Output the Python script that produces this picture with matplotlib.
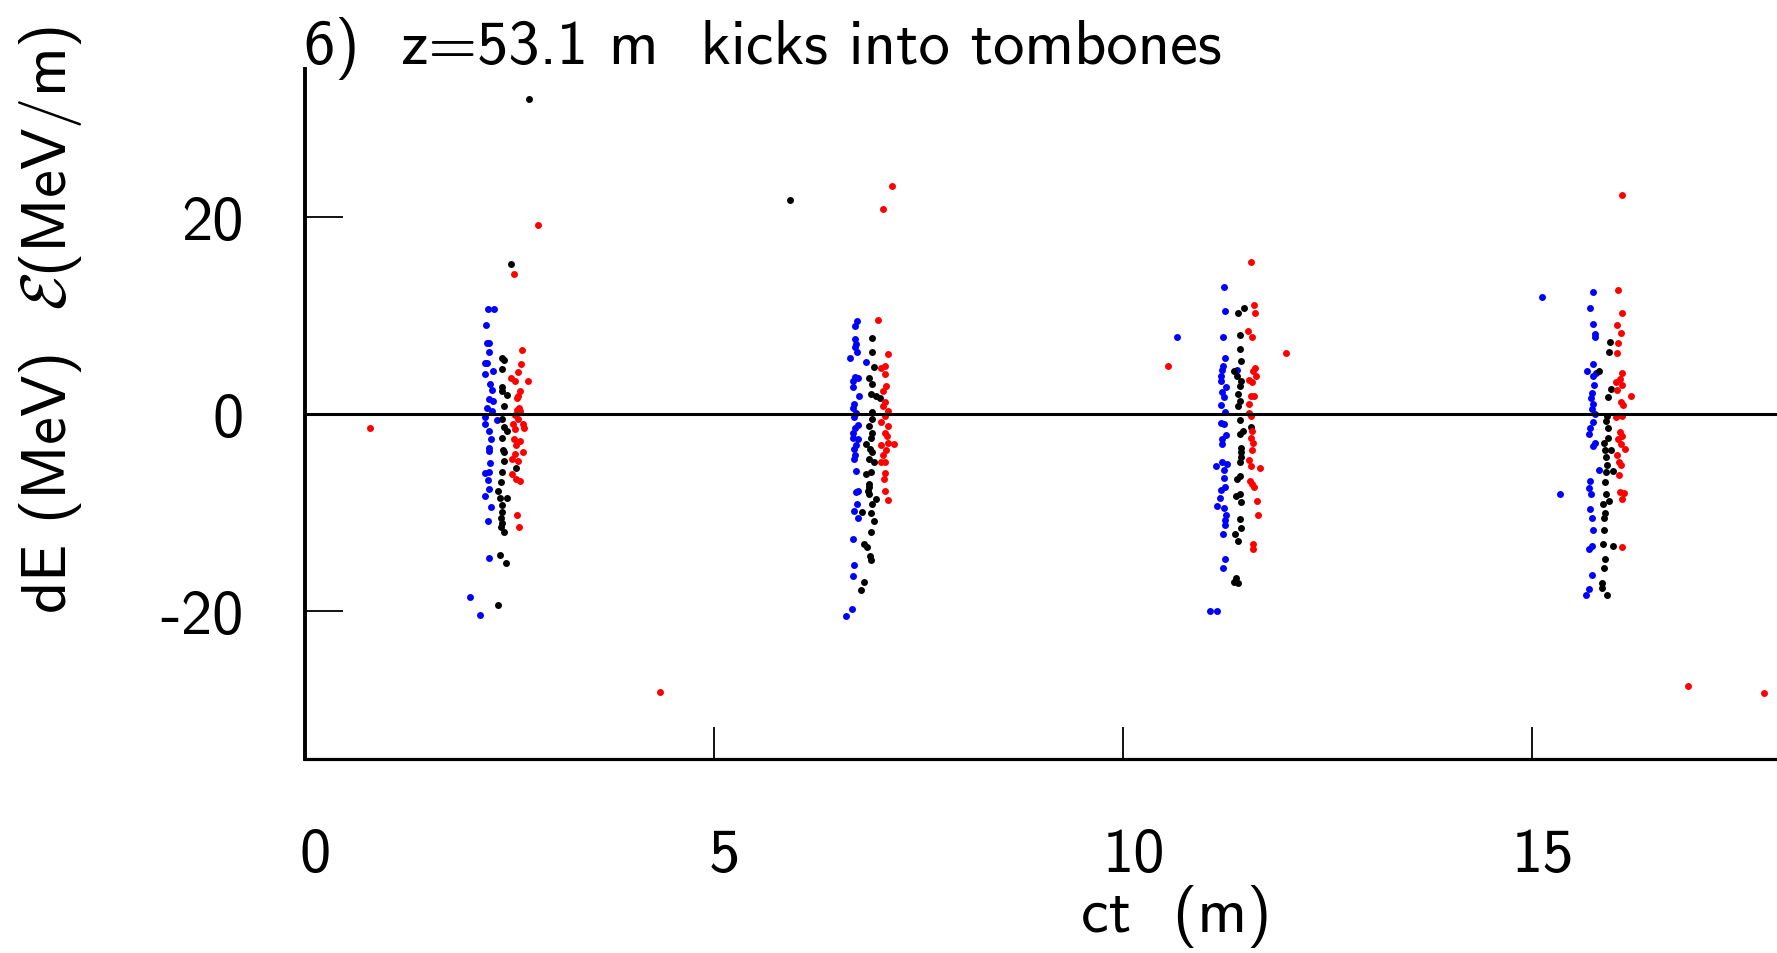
import matplotlib
matplotlib.use('Agg')
import matplotlib.pyplot as plt
import matplotlib.transforms as mtransforms

plt.rcParams['mathtext.fontset'] = 'cm'
plt.rcParams['axes.unicode_minus'] = False
FONT = 'cmss10'
FS = 45

# ---- data (ct in m, dE in MeV) ----
blue_ct = [2.24, 2.32, 2.22, 2.23, 2.26, 2.26, 2.21, 2.23, 2.30, 2.21, 2.27, 2.29, 2.26, 2.30,
           2.23, 2.29, 2.21, 2.35, 2.21, 2.26, 2.28, 2.25, 2.26, 2.27, 2.21, 2.26, 2.24, 2.26,
           2.21, 2.28, 2.24, 2.25, 2.02, 2.15,
           6.75, 6.73, 6.73, 6.74, 6.73, 6.75, 6.67, 6.86, 6.73, 6.76, 6.71, 6.71, 6.78, 6.72,
           6.70, 6.74, 6.72, 6.76, 6.73, 6.71, 6.70, 6.76, 6.74, 6.72, 6.73, 6.72, 6.74, 6.76,
           6.74, 6.75, 6.72, 6.76, 6.71, 6.72, 6.71, 6.69, 6.62,
           10.66, 11.07, 11.15, 11.24, 11.25, 11.23, 11.25, 11.23, 11.21, 11.40, 11.20, 11.20,
           11.26, 11.22, 11.24, 11.20, 11.25, 11.20, 11.24, 11.26, 11.21, 11.22, 11.14, 11.22,
           11.28, 11.24, 11.24, 11.25, 11.20, 11.19, 11.15, 11.24, 11.26, 11.25, 11.25, 11.23,
           11.25, 11.23,
           15.13, 15.35, 15.75, 15.71, 15.75, 15.77, 15.78, 15.75, 15.68, 15.79, 15.75, 15.76,
           15.74, 15.73, 15.75, 15.74, 15.77, 15.75, 15.71, 15.70, 15.77, 15.75, 15.82, 15.71,
           15.70, 15.73, 15.71, 15.74, 15.75, 15.74, 15.70, 15.74, 15.70, 15.66]
blue_dE = [10.65, 10.65, 9.0, 7.2, 7.2, 6.3, 5.2, 5.2, 4.4, 4.1, 3.0, 2.4, 1.5, 1.3,
           0.6, 0.3, -0.3, -0.6, -1.0, -1.7, -2.5, -3.4, -3.8, -5.0, -6.0, -5.9, -6.7, -7.6,
           -8.3, -9.4, -10.9, -14.6, -18.6, -20.4,
           9.4, 8.9, 7.6, 7.1, 6.8, 6.3, 5.7, 5.3, 3.8, 3.7, 3.3, 2.7, 1.8, 1.0,
           0.6, 0.1, -0.3, -1.1, -1.4, -1.9, -2.4, -2.5, -3.1, -3.5, -4.2, -4.6, -5.8, -7.8,
           -7.9, -9.1, -9.8, -10.5, -12.7, -15.3, -16.4, -19.8, -20.5,
           7.8, -20.0, -20.0, 12.9, 10.5, 7.8, 5.7, 4.9, 4.5, 4.5, 3.9, 3.3,
           2.7, 2.2, 1.7, 0.9, 0.2, -0.9, -1.0, -2.1, -2.5, -3.0, -5.3, -4.9,
           -5.1, -5.7, -6.5, -7.4, -7.7, -8.5, -9.3, -9.5, -10.2, -10.8, -11.3, -12.2,
           -14.7, -15.6,
           11.9, -8.1, 12.4, 10.8, 9.1, 8.1, 7.8, 5.1, 4.4, 4.2, 3.9, 2.9,
           2.1, 1.6, 1.0, 0.5, 0.0, -0.8, -1.4, -2.0, -2.9, -3.2, -5.7, -6.8,
           -7.5, -8.1, -9.6, -10.6, -11.8, -13.4, -13.7, -16.3, -17.8, -18.4]

black_ct = [2.74, 2.52, 2.42, 2.44, 2.42, 2.42, 2.42, 2.47, 2.44, 2.42, 2.44, 2.47, 2.42, 2.43,
            2.44, 2.44, 2.42, 2.58, 2.40, 2.37, 2.39, 2.47, 2.42, 2.42, 2.40, 2.42, 2.40, 2.44,
            2.39, 2.46, 2.37, 5.94,
            6.94, 6.94, 6.96, 6.90, 6.94, 6.92, 6.98, 7.04, 6.94, 6.94, 6.90, 6.94, 6.92, 6.86,
            6.91, 6.94, 6.90, 6.96, 6.86, 6.92, 6.90, 6.90, 6.89, 6.90, 6.98, 6.94, 6.82, 6.93,
            6.96, 6.92, 6.84, 6.88, 6.91, 6.92, 6.84, 6.80,
            11.48, 11.41, 11.44, 11.43, 11.45, 11.36, 11.40, 11.45, 11.43, 11.41, 11.43, 11.41,
            11.43, 11.57, 11.47, 11.43, 11.45, 11.45, 11.45, 11.44, 11.43, 11.40, 11.39, 11.43,
            11.45, 11.44, 11.45, 11.37, 11.41, 11.39, 11.41, 11.36,
            15.96, 15.95, 15.83, 15.97, 15.94, 15.92, 15.91, 15.93, 15.93, 15.88, 15.90, 15.97,
            15.91, 15.92, 15.91, 16.00, 15.90, 15.91, 15.95, 15.87, 15.90, 15.89, 15.89, 15.87,
            15.99, 15.90, 15.89, 15.86, 15.86, 15.92]
black_dE = [32.0, 15.2, 5.7, 5.5, 4.6, 2.7, 2.3, 1.9, 0.8, -0.5, -1.3, -1.7, -2.4, -3.7,
            -3.9, -4.8, -5.9, -5.5, -6.9, -7.8, -8.5, -8.5, -9.2, -9.9, -10.6, -11.1, -11.5, -12.0,
            -14.3, -15.1, -19.4, 21.7,
            7.7, 6.3, 4.8, 3.7, 3.0, 2.0, 1.8, 1.6, 0.2, -0.5, -1.2, -1.9, -2.4, -3.0,
            -3.5, -3.9, -4.6, -4.9, -6.1, -5.9, -7.1, -7.4, -7.8, -8.1, -8.6, -9.1, -9.9, -10.0,
            -10.9, -12.0, -13.2, -13.5, -14.4, -14.8, -17.0, -17.9,
            10.8, 10.2, 8.0, 6.6, 5.4, 4.4, 3.9, 3.3, 2.8, 2.0, 1.3, 0.8,
            -0.6, -1.3, -1.7, -2.0, -3.4, -3.9, -4.4, -4.9, -6.3, -6.6, -8.3, -8.1,
            -8.9, -10.7, -11.6, -12.2, -12.9, -16.6, -17.1, -17.0,
            7.3, 6.3, 4.4, 2.5, 1.7, -0.2, -0.7, -1.4, -2.4, -2.9, -3.7, -3.7,
            -4.4, -5.2, -5.9, -5.8, -6.9, -8.1, -8.8, -9.1, -10.0, -10.6, -11.8, -13.2,
            -13.4, -14.7, -15.6, -17.1, -17.7, -18.4]

red_ct = [0.80, 2.85, 2.56, 2.66, 2.65, 2.61, 2.53, 2.57, 2.73, 2.63, 2.61, 2.60, 2.62, 2.60,
          2.64, 2.57, 2.61, 2.67, 2.55, 2.57, 2.68, 2.56, 2.64, 2.59, 2.67, 2.57, 2.61, 2.54,
          2.54, 2.59, 2.63, 2.60, 2.62, 4.35,
          7.18, 7.07, 7.01, 7.13, 7.05, 7.09, 7.09, 7.11, 7.07, 7.09, 7.07, 7.13, 7.09, 7.05,
          7.13, 7.09, 7.12, 7.13, 7.20, 7.05, 7.11, 7.07, 7.05, 7.09, 7.09, 7.08, 7.09, 7.13,
          10.56, 12.00, 11.57, 11.61, 11.62, 11.53, 11.58, 11.62, 11.59, 11.63, 11.54, 11.58,
          11.57, 11.61, 11.55, 11.55, 11.57, 11.58, 11.57, 11.59, 11.58, 11.55, 11.57, 11.68,
          11.56, 11.58, 11.61, 11.64, 11.65, 11.60, 11.60,
          16.10, 16.06, 16.10, 16.04, 16.09, 16.06, 16.05, 16.10, 16.08, 16.03, 16.11, 16.05,
          16.21, 16.09, 16.12, 16.03, 16.11, 16.08, 16.11, 16.06, 16.09, 16.14, 16.05, 16.07,
          16.09, 16.07, 16.08, 16.13, 16.10, 16.10, 16.91, 17.84]
red_dE = [-1.4, 19.2, 14.2, 6.5, 5.1, 4.3, 3.7, 3.3, 3.3, 2.3, 1.8, 1.6, 0.6, 0.4,
          0.3, -0.1, -0.5, -1.0, -1.0, -1.5, -1.4, -2.5, -2.7, -3.1, -3.9, -4.1, -4.8, -4.6,
          -6.1, -6.6, -6.8, -10.2, -11.5, -28.2,
          23.1, 20.8, 9.5, 6.1, 4.7, 4.9, 4.1, 2.8, 2.3, 1.2, 0.8, 0.3, -0.2, -0.8,
          -1.2, -1.9, -2.2, -2.9, -3.0, -3.1, -3.7, -4.2, -4.9, -4.9, -6.0, -6.6, -7.8, -8.7,
          4.9, 6.2, 15.4, 11.1, 10.2, 8.4, 7.8, 4.7, 4.4, 3.9, 3.5, 3.2,
          1.8, 1.8, 1.0, 0.1, -0.2, -1.7, -2.4, -2.9, -3.7, -4.7, -5.3, -5.5,
          -6.8, -7.1, -7.4, -8.8, -10.2, -13.2, -13.7,
          22.2, 12.6, 10.2, 9.0, 8.2, 7.2, 6.2, 4.2, 3.6, 3.2, 2.9, 2.4,
          1.8, 1.2, 0.9, -0.3, -0.2, -1.8, -2.2, -2.5, -3.0, -3.6, -4.2, -4.9,
          -5.2, -6.2, -7.9, -8.0, -8.6, -13.5, -27.6, -28.3]

x_ticks = [0, 5, 10, 15]
y_ticks = [-20, 0, 20]

W, H = 1777, 954
fig = plt.figure(figsize=(W / 100, H / 100), dpi=100)
ax = fig.add_axes([304.5 / W, 1 - 760 / H, 1 - 304.5 / W, (760 - 70) / H])

ms = 5.0
ax.plot(blue_ct, blue_dE, 'o', color='#0000ff', ms=ms, mew=0, clip_on=False)
ax.plot(black_ct, black_dE, 'o', color='black', ms=ms, mew=0, clip_on=False)
ax.plot(red_ct, red_dE, 'o', color='#ff0000', ms=ms, mew=0, clip_on=False)
ax.axhline(0, color='black', lw=2.2)

ax.set_xlim(0, 18)
ax.set_ylim(-35, 35)
for s in ['top', 'right']:
    ax.spines[s].set_visible(False)
ax.spines['left'].set_linewidth(2.8)
ax.spines['bottom'].set_linewidth(2.3)

ax.set_xticks(x_ticks)
ax.set_yticks(y_ticks)
ax.set_xticklabels([str(t) for t in x_ticks], fontfamily=FONT, fontsize=FS)
ax.set_yticklabels([str(t) for t in y_ticks], fontfamily=FONT, fontsize=FS)
ax.tick_params(axis='x', direction='in', length=23, width=1.3, pad=49)
ax.tick_params(axis='y', direction='in', length=27, width=1.3, pad=44)
# gnuplot-ish: x labels sit a bit right of their ticks
offset = mtransforms.ScaledTranslation(11 / 100, 0, fig.dpi_scale_trans)
for lab in ax.get_xticklabels():
    lab.set_transform(lab.get_transform() + offset)

fig.text(304.5 / W, 1 - 64 / H, '6)  z=53.1 m  kicks into tombones',
         fontfamily=FONT, fontsize=FS, ha='left', va='baseline')
fig.text(51 / W, 1 - 320 / H, r'dE (MeV)  $\mathcal{E}$(MeV/m)',
         fontfamily=FONT, fontsize=FS, rotation=90, ha='center', va='center')
fig.text(1176 / W, 1 - 917 / H, 'ct  (m)',
         fontfamily=FONT, fontsize=FS, ha='center', va='center')

fig.savefig('out.png', dpi=100)
